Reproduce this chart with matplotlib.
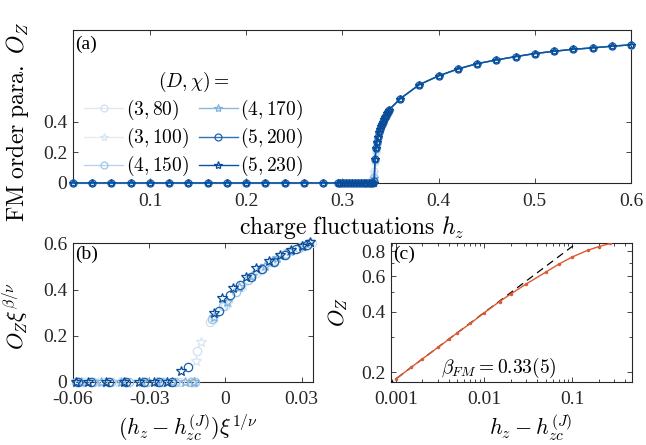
import matplotlib
matplotlib.use("Agg")
import matplotlib.pyplot as plt
from matplotlib.ticker import FixedLocator, NullFormatter, LogLocator

plt.rcParams['font.family'] = ['Liberation Serif', 'DejaVu Serif']
plt.rcParams['mathtext.fontset'] = 'cm'
plt.rcParams['axes.linewidth'] = 0.8

# ---------------- data ----------------
labels = [r'$(3,80)$', r'$(3,100)$', r'$(4,150)$', r'$(4,170)$', r'$(5,200)$', r'$(5,230)$']

# panel (a): coarse grid shared by all bond dimensions
hz_low = [0.02, 0.04, 0.06, 0.08, 0.10, 0.12, 0.14, 0.16, 0.18, 0.20, 0.22, 0.24, 0.26, 0.28]
Oz_low = [0, 0, 0, 0, 0, 0, 0, 0, 0, 0, 0, 0, 0, 0]
hz_high = [0.36, 0.38, 0.40, 0.42, 0.44, 0.46, 0.48, 0.50, 0.52, 0.54, 0.56, 0.58, 0.60]
Oz_high = [0.55, 0.643, 0.70, 0.745, 0.78, 0.804, 0.826, 0.846, 0.861, 0.874, 0.883, 0.894, 0.903]

# panel (a): dense scan near the transition
hz_dense = [0.295, 0.298, 0.301, 0.304, 0.307, 0.310, 0.313, 0.316, 0.319, 0.322,
            0.325, 0.328, 0.330, 0.332, 0.333, 0.334, 0.335, 0.336, 0.337, 0.338,
            0.339, 0.340, 0.341, 0.342, 0.343, 0.344, 0.345, 0.346, 0.347, 0.348]
Oz_dense_3_80 = [0, 0, 0, 0, 0, 0, 0, 0, 0, 0, 0, 0, 0.01, 0.04, 0.08, 0.14, 0.20, 0.25,
                 0.29, 0.32, 0.345, 0.365, 0.38, 0.395, 0.41, 0.425, 0.435, 0.45, 0.46, 0.47]
Oz_dense_3_100 = [0, 0, 0, 0, 0, 0, 0, 0, 0, 0, 0, 0, 0.005, 0.03, 0.07, 0.15, 0.21, 0.255,
                  0.295, 0.325, 0.35, 0.37, 0.385, 0.40, 0.415, 0.43, 0.44, 0.455, 0.465, 0.475]
Oz_dense_4_150 = [0, 0, 0, 0, 0, 0, 0, 0, 0, 0, 0, 0, 0, 0.01, 0.04, 0.15, 0.22, 0.26,
                  0.30, 0.33, 0.35, 0.37, 0.385, 0.40, 0.415, 0.43, 0.44, 0.455, 0.465, 0.475]
Oz_dense_4_170 = [0, 0, 0, 0, 0, 0, 0, 0, 0, 0, 0, 0, 0, 0.005, 0.03, 0.16, 0.225, 0.265,
                  0.30, 0.33, 0.35, 0.37, 0.385, 0.40, 0.415, 0.43, 0.44, 0.455, 0.465, 0.475]
Oz_dense_5_200 = [0, 0, 0, 0, 0, 0, 0, 0, 0, 0, 0, 0, 0, 0, 0.01, 0.16, 0.23, 0.27,
                  0.30, 0.33, 0.35, 0.37, 0.385, 0.40, 0.415, 0.43, 0.44, 0.455, 0.465, 0.475]
Oz_dense_5_230 = [0, 0, 0, 0, 0, 0, 0, 0, 0, 0, 0, 0, 0, 0, 0, 0.16, 0.23, 0.27,
                  0.30, 0.33, 0.35, 0.37, 0.385, 0.40, 0.415, 0.43, 0.44, 0.455, 0.465, 0.475]
Oz_dense = [Oz_dense_3_80, Oz_dense_3_100, Oz_dense_4_150,
            Oz_dense_4_170, Oz_dense_5_200, Oz_dense_5_230]

# panel (b): data collapse
bx_3_80 = [-0.056, -0.048, -0.040, -0.032, -0.024, -0.018, -0.013, -0.0112,
           -0.006, 0.0, 0.006, 0.012, 0.018, 0.024, 0.030, 0.034]
by_3_80 = [0, 0, 0, 0, 0, 0, 0, 0.135, 0.26, 0.33, 0.41, 0.47, 0.52, 0.56, 0.59, 0.60]
bx_3_100 = [-0.058, -0.050, -0.042, -0.034, -0.026, -0.019, -0.0135, -0.0117, -0.0095,
            -0.005, 0.001, 0.007, 0.013, 0.019, 0.025, 0.031]
by_3_100 = [0, 0, 0, 0, 0, 0, 0, 0.092, 0.171, 0.27, 0.34, 0.42, 0.48, 0.525, 0.565, 0.59]
bx_4_150 = [-0.059, -0.052, -0.045, -0.038, -0.031, -0.025, -0.020, -0.0135, -0.012,
            -0.0053, -0.001, 0.004, 0.009, 0.014, 0.019, 0.024, 0.029, 0.033]
by_4_150 = [0, 0, 0, 0, 0, 0, 0, 0, 0, 0.271, 0.33, 0.39, 0.44, 0.49, 0.525, 0.555, 0.58, 0.60]
bx_4_170 = [-0.057, -0.049, -0.041, -0.033, -0.027, -0.021, -0.016, -0.0125,
            -0.0045, 0.0005, 0.0055, 0.0105, 0.0155, 0.0205, 0.0255, 0.0305]
by_4_170 = [0, 0, 0, 0, 0, 0, 0, 0, 0.28, 0.345, 0.41, 0.46, 0.50, 0.535, 0.565, 0.59]
bx_5_200 = [-0.058, -0.053, -0.046, -0.039, -0.032, -0.026, -0.021, -0.0148,
            -0.0025, 0.0017, 0.0059, 0.0100, 0.0145, 0.019, 0.0235, 0.028, 0.032]
by_5_200 = [0, 0, 0, 0, 0, 0, 0, 0.063, 0.308, 0.374, 0.42, 0.455, 0.49, 0.52, 0.55, 0.575, 0.595]
bx_5_230 = [-0.059, -0.054, -0.047, -0.040, -0.034, -0.028, -0.023, -0.0174,
            -0.0043, -0.0012, 0.003, 0.008, 0.0122, 0.017, 0.0215, 0.026, 0.030, 0.0335]
by_5_230 = [0, 0, 0, 0, 0, 0, 0, 0.047, 0.30, 0.362, 0.406, 0.455, 0.494, 0.525, 0.55, 0.57, 0.59, 0.605]
bxs = [bx_3_80, bx_3_100, bx_4_150, bx_4_170, bx_5_200, bx_5_230]
bys = [by_3_80, by_3_100, by_4_150, by_4_170, by_5_200, by_5_230]

# panel (c): log-log scaling
dh = [0.001, 0.0015, 0.002, 0.003, 0.004, 0.005, 0.007, 0.01, 0.015, 0.02,
      0.03, 0.05, 0.07, 0.1, 0.15, 0.2, 0.27]
Oz_c = [0.185, 0.212, 0.233, 0.266, 0.292, 0.315, 0.35, 0.395, 0.45, 0.49,
        0.55, 0.63, 0.69, 0.75, 0.81, 0.845, 0.875]
fit_x = [0.0008, 0.12]
fit_y = [0.172, 0.899]

# ---------------- style ----------------
line_colors = ['#dce8f4', '#e3ecf6', '#b9d5ed', '#86b9e1', '#2f72b8', '#0b55a0']
mk_colors = ['#d0e0f1', '#d8e5f3', '#9ec5e7', '#7fb2de', '#1c63ae', '#0a4b98']
markers = ['o', '*', 'o', '*', 'o', '*']
axis_col = '#262626'

fig = plt.figure(figsize=(6.46, 4.45), dpi=100)
axa = fig.add_axes([0.113, 0.5888, 0.8638, 0.3438])
axb = fig.add_axes([0.113, 0.1422, 0.3715, 0.3124])
axc = fig.add_axes([0.6053, 0.1422, 0.3726, 0.3124])


def style(ax):
    ax.tick_params(direction='in', top=True, right=True, length=3.5, width=0.6,
                   labelsize=14, colors=axis_col)
    ax.tick_params(axis='x', pad=7)
    ax.tick_params(axis='y', pad=4)
    ax.tick_params(which='minor', direction='in', top=True, right=True, length=2, width=0.5)
    for s in ax.spines.values():
        s.set_color(axis_col)


# ---- panel (a)
for i in range(6):
    hz = hz_low + hz_dense + hz_high
    oz = Oz_low + Oz_dense[i] + Oz_high
    axa.plot(hz, oz, color=line_colors[i], lw=1.0, marker=markers[i],
             ms=6 if markers[i] == '*' else 5, mfc='none', mec=mk_colors[i], mew=0.9,
             label=labels[i], clip_on=False, zorder=3 + i)
axa.set_xlim(0.02, 0.6)
axa.set_ylim(0, 1.0)
axa.set_xticks([0.1, 0.2, 0.3, 0.4, 0.5, 0.6])
axa.set_xticklabels(['0.1', '0.2', '0.3', '0.4', '0.5', '0.6'])
axa.set_yticks([0, 0.2, 0.4])
axa.set_yticklabels(['0', '0.2', '0.4'])
style(axa)
axa.set_xlabel(r'$\mathrm{charge\ fluctuations}\ h_z$', fontsize=17)
axa.xaxis.set_label_coords(0.5, -0.2)
axa.set_ylabel(r'$\mathrm{FM\ order\ para.}\ O_Z$', fontsize=17)
axa.yaxis.set_label_coords(-0.075, 0.40)
axa.text(0.004, 0.965, '(a)', transform=axa.transAxes, fontsize=14, va='top', ha='left')
leg = axa.legend(ncol=2, loc='lower left', bbox_to_anchor=(0.02, 0.03), frameon=False,
                 title=r'$(D,\chi)=$', title_fontsize=14, fontsize=14, numpoints=1,
                 handlelength=2.0, handletextpad=0.15, columnspacing=0.5,
                 labelspacing=0.2, borderaxespad=0, borderpad=0)

# ---- panel (b)
for i in range(6):
    axb.plot(bxs[i], bys[i], ls='none', marker=markers[i],
             ms=7 if markers[i] == '*' else 6, mfc='none', mec=mk_colors[i], mew=0.9,
             clip_on=False, zorder=3 + i)
axb.set_xlim(-0.06, 0.0345)
axb.set_ylim(0, 0.603)
axb.set_xticks([-0.06, -0.03, 0, 0.03])
axb.set_xticklabels(['-0.06', '-0.03', '0', '0.03'])
axb.set_yticks([0, 0.2, 0.4, 0.6])
axb.set_yticklabels(['0', '0.2', '0.4', '0.6'])
style(axb)
axb.set_xlabel(r'$(h_z-h_{zc}^{(J)})\xi^{1/\nu}$', fontsize=16)
axb.xaxis.set_label_coords(0.48, -0.22)
axb.set_ylabel(r'$O_Z\xi^{\beta/\nu}$', fontsize=16)
axb.yaxis.set_label_coords(-0.18, 0.47)
axb.text(0.01, 0.975, '(b)', transform=axb.transAxes, fontsize=14, va='top', ha='left')

# ---- panel (c)
axc.plot(fit_x, fit_y, color='black', lw=0.9, ls=(0, (6, 4)), zorder=3)
axc.plot(dh, Oz_c, color='#DE5A32', lw=1.0, marker='.', ms=3, zorder=4)
axc.set_xscale('log')
axc.set_yscale('log')
axc.set_xlim(0.000885, 0.471)
axc.set_ylim(0.1796, 0.883)
axc.xaxis.set_major_locator(FixedLocator([0.001, 0.01, 0.1]))
axc.set_xticklabels(['0.001', '0.01', '0.1'])
axc.xaxis.set_minor_locator(LogLocator(base=10, subs=range(2, 10)))
axc.xaxis.set_minor_formatter(NullFormatter())
axc.yaxis.set_major_locator(FixedLocator([0.2, 0.4, 0.6, 0.8]))
axc.set_yticklabels(['0.2', '0.4', '0.6', '0.8'])
axc.yaxis.set_minor_locator(FixedLocator([0.3, 0.5, 0.7]))
axc.yaxis.set_minor_formatter(NullFormatter())
style(axc)
axc.set_xlabel(r'$h_z-h_{zc}^{(J)}$', fontsize=16)
axc.xaxis.set_label_coords(0.58, -0.22)
axc.set_ylabel(r'$O_Z$', fontsize=16)
axc.yaxis.set_label_coords(-0.17, 0.5)
axc.text(0.01, 0.975, '(c)', transform=axc.transAxes, fontsize=14, va='top', ha='left')
axc.text(0.45, 0.1, r'$\beta_{FM}=0.33(5)$', transform=axc.transAxes, fontsize=14,
         ha='center', va='center')

fig.savefig('out.png', dpi=100)
